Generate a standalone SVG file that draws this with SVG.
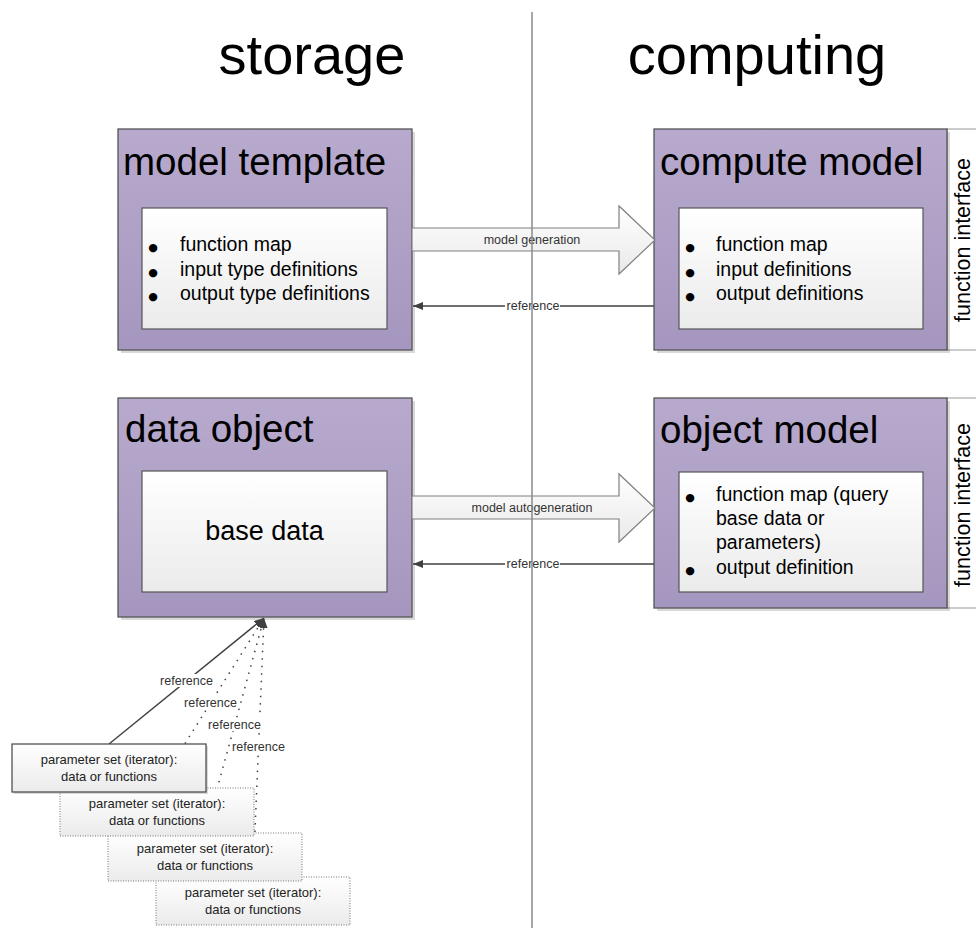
<svg xmlns="http://www.w3.org/2000/svg" width="976" height="928" viewBox="0 0 976 928">
<defs>
<linearGradient id="gPurple" x1="0" y1="0" x2="0" y2="1">
<stop offset="0" stop-color="#b8aacd"/><stop offset="1" stop-color="#a596bf"/>
</linearGradient>
<linearGradient id="gWhite" x1="0" y1="0" x2="0" y2="1">
<stop offset="0" stop-color="#ffffff"/><stop offset="1" stop-color="#ebebeb"/>
</linearGradient>
<linearGradient id="gArrow" x1="0" y1="0" x2="0" y2="1">
<stop offset="0" stop-color="#ffffff"/><stop offset="1" stop-color="#e9e9e9"/>
</linearGradient>
<marker id="ah" viewBox="0 0 10 8" refX="10" refY="4" markerWidth="10" markerHeight="8" markerUnits="userSpaceOnUse" orient="auto">
<path d="M0,0 L10,4 L0,8 z" fill="#404040"/>
</marker>
<style>
text{font-family:"Liberation Sans",Arial,sans-serif;fill:#000}
.big{font-size:56px}
.ttl{font-size:38.5px}
.bul{font-size:19.5px}
.dot{font-family:"DejaVu Sans",sans-serif;font-size:11px;text-anchor:middle}
.lbl{font-size:12.5px;fill:#333;text-anchor:middle}
.ps{font-size:13px;fill:#222;text-anchor:middle}
.fi{font-size:21.5px;text-anchor:middle}
.outer{fill:url(#gPurple);stroke:#555;stroke-width:1.3}
.inner{fill:url(#gWhite);stroke:#555;stroke-width:1.2}
.shadow{fill:#000;opacity:0.15}
.strip{fill:#fff;stroke:#999;stroke-width:1}
.barrow{fill:url(#gArrow);stroke:#808080;stroke-width:1.2}
.ref{stroke:#404040;stroke-width:1.4;fill:none}
.refd{stroke:#404040;stroke-width:1.5;fill:none;stroke-dasharray:1.5 6}
.psbox{fill:url(#gWhite);stroke:#444;stroke-width:1.2}
.psboxd{fill:url(#gWhite);stroke:#777;stroke-width:1;stroke-dasharray:1 1.5}
.lblbg{fill:#fff}
</style>
</defs>
<rect width="976" height="928" fill="#fff"/>

<g id="titles">
<text class="big" x="312" y="74" text-anchor="middle">storage</text>
<text class="big" x="757" y="74" text-anchor="middle">computing</text>
</g>

<g id="model-template">
<rect class="shadow" x="121" y="132" width="294" height="221"/>
<rect class="outer" x="118" y="129" width="294" height="221"/>
<text class="ttl" x="123" y="175">model template</text>
<rect class="inner" x="142" y="208" width="245" height="121"/>
<text class="dot" x="153" y="251">●</text>
<text class="bul" x="180" y="251">function map</text>
<text class="dot" x="153" y="276">●</text>
<text class="bul" x="180" y="276">input type definitions</text>
<text class="dot" x="153" y="300">●</text>
<text class="bul" x="180" y="300">output type definitions</text>
</g>

<g id="compute-model">
<rect class="strip" x="947" y="129" width="40" height="221"/>
<text class="fi" transform="translate(970,240) rotate(-90)">function interface</text>
<rect class="shadow" x="657" y="132" width="293" height="221"/>
<rect class="outer" x="654" y="129" width="293" height="221"/>
<text class="ttl" x="660" y="175">compute model</text>
<rect class="inner" x="679" y="208" width="244" height="121"/>
<text class="dot" x="690" y="251">●</text>
<text class="bul" x="716" y="251">function map</text>
<text class="dot" x="690" y="276">●</text>
<text class="bul" x="716" y="276">input definitions</text>
<text class="dot" x="690" y="300">●</text>
<text class="bul" x="716" y="300">output definitions</text>
</g>

<g id="data-object">
<rect class="shadow" x="121" y="401" width="294" height="219"/>
<rect class="outer" x="118" y="398" width="294" height="219"/>
<text class="ttl" x="125" y="442">data object</text>
<rect class="inner" x="142" y="471" width="245" height="121"/>
<text x="264.5" y="540" font-size="27" text-anchor="middle">base data</text>
</g>

<g id="object-model">
<rect class="strip" x="947" y="398" width="40" height="210"/>
<text class="fi" transform="translate(970,505) rotate(-90)">function interface</text>
<rect class="shadow" x="657" y="401" width="293" height="210"/>
<rect class="outer" x="654" y="398" width="293" height="210"/>
<text class="ttl" x="660" y="443">object model</text>
<rect class="inner" x="679" y="472" width="244" height="120"/>
<text class="dot" x="690" y="501">●</text>
<text class="bul" x="716" y="501">function map (query</text>
<text class="bul" x="716" y="525">base data or</text>
<text class="bul" x="716" y="549">parameters)</text>
<text class="dot" x="690" y="574">●</text>
<text class="bul" x="716" y="574">output definition</text>
</g>

<g id="connectors">
<path class="barrow" d="M412,228 L619,228 L619,206 L655,240 L619,274 L619,251 L412,251 Z"/>
<text class="lbl" x="532" y="244">model generation</text>
<line class="ref" x1="654" y1="306" x2="413" y2="306" marker-end="url(#ah)"/>
<rect class="lblbg" x="505" y="299" width="55" height="14"/>
<text class="lbl" x="533" y="310">reference</text>

<path class="barrow" d="M412,496 L619,496 L619,474 L655,508 L619,542 L619,519 L412,519 Z"/>
<text class="lbl" x="532" y="512">model autogeneration</text>
<line class="ref" x1="654" y1="564" x2="413" y2="564" marker-end="url(#ah)"/>
<rect class="lblbg" x="505" y="557" width="55" height="14"/>
<text class="lbl" x="533" y="568">reference</text>

<line class="ref" x1="109" y1="744" x2="264" y2="618" marker-end="url(#ah)"/>
<line class="refd" x1="157" y1="788" x2="264" y2="618" marker-end="url(#ah)"/>
<line class="refd" x1="205" y1="833" x2="264" y2="618" marker-end="url(#ah)"/>
<line class="refd" x1="253" y1="877" x2="264" y2="618" marker-end="url(#ah)"/>
<rect class="lblbg" x="159" y="674" width="55" height="13"/>
<text class="lbl" x="186.5" y="685">reference</text>
<rect class="lblbg" x="183" y="696" width="55" height="13"/>
<text class="lbl" x="210.5" y="707">reference</text>
<rect class="lblbg" x="207" y="718" width="55" height="13"/>
<text class="lbl" x="234.5" y="729">reference</text>
<rect class="lblbg" x="231" y="740" width="55" height="13"/>
<text class="lbl" x="258.5" y="751">reference</text>
</g>

<g id="divider">
<line x1="532" y1="12" x2="532" y2="928" stroke="#8a8a8a" stroke-width="1.5"/>
</g>

<g id="param-set-4">
<rect class="psboxd" x="156" y="877" width="194" height="48"/>
<text class="ps" x="253" y="897">parameter set (iterator):</text>
<text class="ps" x="253" y="914">data or functions</text>
</g>
<g id="param-set-3">
<rect class="psboxd" x="108" y="833" width="194" height="48"/>
<text class="ps" x="205" y="853">parameter set (iterator):</text>
<text class="ps" x="205" y="870">data or functions</text>
</g>
<g id="param-set-2">
<rect class="psboxd" x="60" y="788" width="194" height="48"/>
<text class="ps" x="157" y="808">parameter set (iterator):</text>
<text class="ps" x="157" y="825">data or functions</text>
</g>
<g id="param-set-1">
<rect class="shadow" x="14" y="746" width="194" height="48"/>
<rect class="psbox" x="12" y="744" width="194" height="48"/>
<text class="ps" x="109" y="764">parameter set (iterator):</text>
<text class="ps" x="109" y="781">data or functions</text>
</g>
</svg>
